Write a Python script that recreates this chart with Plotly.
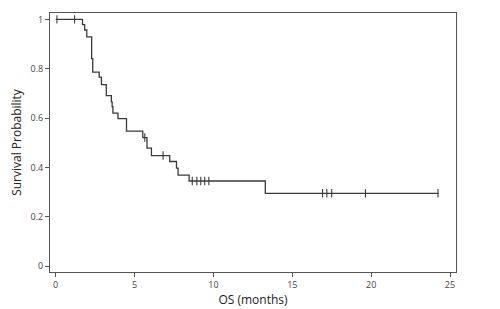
import plotly.graph_objects as go

# Kaplan-Meier step curve
step_time = [0.0, 1.70, 1.84, 1.97, 2.28, 2.35, 2.76, 2.90, 3.21, 3.53, 3.58, 3.63,
             3.95, 4.49, 5.52, 5.79, 6.07, 7.23, 7.66, 7.76, 8.46, 13.29, 24.26]
step_surv = [1.0, 0.979, 0.957, 0.929, 0.841, 0.786, 0.766, 0.736, 0.691, 0.666, 0.646, 0.620,
             0.598, 0.547, 0.521, 0.478, 0.448, 0.424, 0.397, 0.369, 0.345, 0.295, 0.295]

# Censored observations
censor_time = [0.08, 1.20, 5.65, 6.81, 8.66, 8.95, 9.20, 9.45, 9.71,
               16.92, 17.19, 17.50, 19.64, 24.24]
censor_surv = [1.0, 1.0, 0.521, 0.448, 0.345, 0.345, 0.345, 0.345, 0.345,
               0.295, 0.295, 0.295, 0.295, 0.295]

x_ticks = [0, 5, 10, 15, 20, 25]
y_ticks = [0, 0.2, 0.4, 0.6, 0.8, 1]
y_ticktext = ["0", "0.2", "0.4", "0.6", "0.8", "1"]

line_color = "#3a3a3a"
font_family = "Open Sans, Arial, sans-serif"

fig = go.Figure()
fig.add_trace(go.Scatter(
    x=step_time, y=step_surv, mode="lines",
    line=dict(color=line_color, width=1.3, shape="hv"),
    hoverinfo="skip", showlegend=False,
))
fig.add_trace(go.Scatter(
    x=censor_time, y=censor_surv, mode="markers",
    marker=dict(symbol="line-ns-open", size=6, color=line_color,
                line=dict(color=line_color, width=1.1)),
    showlegend=False,
))

axis_common = dict(
    showgrid=False, zeroline=False, showline=True, mirror=True,
    linecolor="#555555", linewidth=1, automargin=False,
    ticks="outside", ticklen=4, tickcolor="#555555", tickwidth=1,
    tickfont=dict(family=font_family, size=9, color="#444444"),
)

fig.update_xaxes(
    range=[-0.36, 25.38], tickvals=x_ticks,
    title=dict(text="OS (months)", font=dict(family=font_family, size=12, color="#222222"), standoff=3),
    **axis_common,
)
fig.update_yaxes(
    range=[-0.024, 1.026], tickvals=y_ticks, ticktext=y_ticktext,
    title=dict(text="Survival Probability", font=dict(family=font_family, size=12, color="#222222"), standoff=6),
    **axis_common,
)

# The page body adds an 8 px offset; size the figure so the frame lands where the reference has it
fig.update_layout(
    width=492, height=301,
    margin=dict(l=42, r=44, t=5, b=37),
    paper_bgcolor="white", plot_bgcolor="white",
)

fig.write_html("out.html")
